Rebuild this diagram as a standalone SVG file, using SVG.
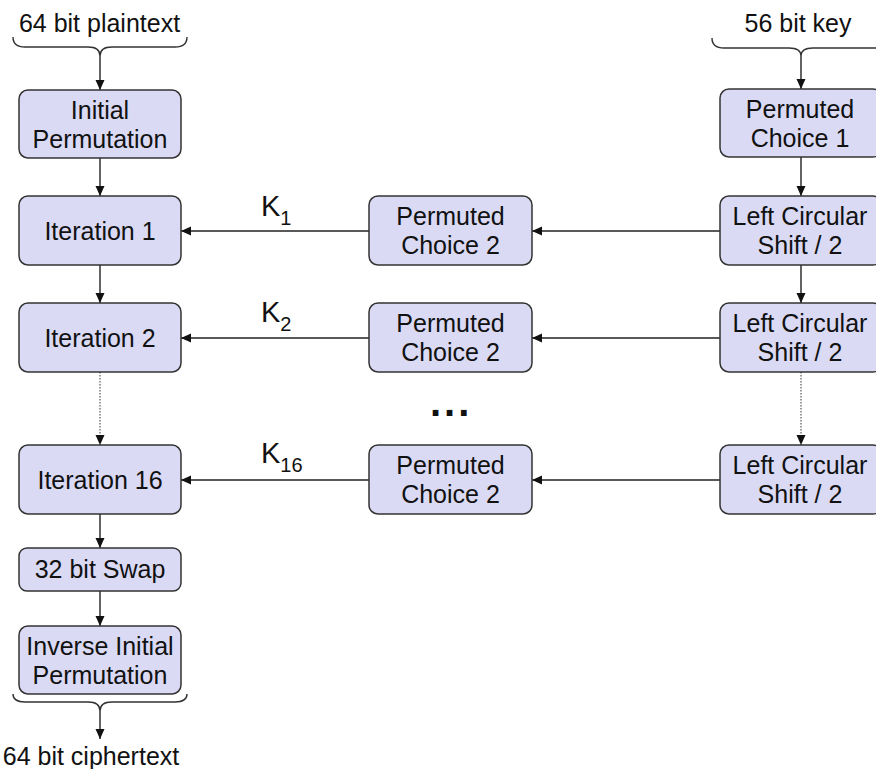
<svg xmlns="http://www.w3.org/2000/svg" width="876" height="769" viewBox="0 0 876 769">
<style>
.box{fill:#dadaf5;stroke:#333;stroke-width:1.5}
.t{font-family:"Liberation Sans",Arial,sans-serif;font-size:25px;fill:#111;text-anchor:middle}
.lbl{font-family:"Liberation Sans",Arial,sans-serif;fill:#111}
.c{stroke:#222;stroke-width:1.4;fill:none}
.d{stroke:#555;stroke-width:1.2;fill:none;stroke-dasharray:1.5 1.5}
.br{stroke:#333;stroke-width:1.4;fill:none}
</style>
<defs>
<marker id="ah" markerUnits="userSpaceOnUse" markerWidth="11" markerHeight="10" refX="10" refY="5" orient="auto">
<path d="M0,0.5 L10,5 L0,9.5 z" fill="#111"/>
</marker>
</defs>
<rect width="876" height="769" fill="#fff"/>

<g id="labels">
<text class="t" x="99.5" y="32">64 bit plaintext</text>
<text class="t" x="798" y="32">56 bit key</text>
<text class="t" x="91" y="765">64 bit ciphertext</text>
<path class="br" d="M13,37 Q13,47 25,47 L88,47 Q100,47 100,56 Q100,47 112,47 L175,47 Q187,47 187,37"/>
<path class="br" d="M712,38 Q712,48 724,48 L789,48 Q801,48 801,56 Q801,48 813,48 L878,48 Q890,48 890,38"/>
<path class="br" d="M13,694 Q13,702 25,702 L88,702 Q100,702 100,711 Q100,702 112,702 L175,702 Q187,702 187,694"/>
<text class="lbl" x="261" y="216" font-size="29">K<tspan font-size="20" dy="9">1</tspan></text>
<text class="lbl" x="261" y="322" font-size="29">K<tspan font-size="20" dy="9">2</tspan></text>
<text class="lbl" x="261" y="463" font-size="29">K<tspan font-size="20" dy="9">16</tspan></text>
<text class="lbl" x="430" y="416" font-size="40" font-weight="bold" letter-spacing="3">...</text>
</g>

<g id="connectors">
<line class="c" x1="100" y1="56" x2="100" y2="90" marker-end="url(#ah)"/>
<line class="c" x1="100" y1="158" x2="100" y2="196" marker-end="url(#ah)"/>
<line class="c" x1="100" y1="265" x2="100" y2="303" marker-end="url(#ah)"/>
<line class="d" x1="100" y1="372" x2="100" y2="445" marker-end="url(#ah)"/>
<line class="c" x1="100" y1="514" x2="100" y2="548" marker-end="url(#ah)"/>
<line class="c" x1="100" y1="591" x2="100" y2="626" marker-end="url(#ah)"/>
<line class="c" x1="100" y1="711" x2="100" y2="739" marker-end="url(#ah)"/>
<line class="c" x1="801" y1="56" x2="801" y2="89" marker-end="url(#ah)"/>
<line class="c" x1="801" y1="157" x2="801" y2="196" marker-end="url(#ah)"/>
<line class="c" x1="801" y1="265" x2="801" y2="303" marker-end="url(#ah)"/>
<line class="d" x1="801" y1="372" x2="801" y2="445" marker-end="url(#ah)"/>
<line class="c" x1="720" y1="231" x2="532" y2="231" marker-end="url(#ah)"/>
<line class="c" x1="369" y1="231" x2="181" y2="231" marker-end="url(#ah)"/>
<line class="c" x1="720" y1="338" x2="532" y2="338" marker-end="url(#ah)"/>
<line class="c" x1="369" y1="338" x2="181" y2="338" marker-end="url(#ah)"/>
<line class="c" x1="720" y1="480" x2="532" y2="480" marker-end="url(#ah)"/>
<line class="c" x1="369" y1="480" x2="181" y2="480" marker-end="url(#ah)"/>
</g>

<g id="ip"><rect class="box" x="19" y="90" width="162" height="68" rx="9"/><text class="t" x="100" y="119">Initial</text><text class="t" x="100" y="148">Permutation</text></g>
<g id="it1"><rect class="box" x="19" y="196" width="162" height="69" rx="9"/><text class="t" x="100" y="240">Iteration 1</text></g>
<g id="it2"><rect class="box" x="19" y="303" width="162" height="69" rx="9"/><text class="t" x="100" y="347">Iteration 2</text></g>
<g id="it16"><rect class="box" x="19" y="445" width="162" height="69" rx="9"/><text class="t" x="100" y="489">Iteration 16</text></g>
<g id="swap"><rect class="box" x="19" y="548" width="162" height="43" rx="8"/><text class="t" x="100" y="578">32 bit Swap</text></g>
<g id="iip"><rect class="box" x="19" y="626" width="162" height="68" rx="9"/><text class="t" x="100" y="655">Inverse Initial</text><text class="t" x="100" y="684">Permutation</text></g>

<g id="pc2a"><rect class="box" x="369" y="196" width="163" height="69" rx="9"/><text class="t" x="450.5" y="225">Permuted</text><text class="t" x="450.5" y="254">Choice 2</text></g>
<g id="pc2b"><rect class="box" x="369" y="303" width="163" height="69" rx="9"/><text class="t" x="450.5" y="332">Permuted</text><text class="t" x="450.5" y="361">Choice 2</text></g>
<g id="pc2c"><rect class="box" x="369" y="445" width="163" height="69" rx="9"/><text class="t" x="450.5" y="474">Permuted</text><text class="t" x="450.5" y="503">Choice 2</text></g>

<g id="pc1"><rect class="box" x="720" y="89" width="162" height="68" rx="9"/><text class="t" x="800" y="118">Permuted</text><text class="t" x="800" y="147">Choice 1</text></g>
<g id="lcs1"><rect class="box" x="720" y="196" width="162" height="69" rx="9"/><text class="t" x="800" y="225">Left Circular</text><text class="t" x="800" y="254">Shift / 2</text></g>
<g id="lcs2"><rect class="box" x="720" y="303" width="162" height="69" rx="9"/><text class="t" x="800" y="332">Left Circular</text><text class="t" x="800" y="361">Shift / 2</text></g>
<g id="lcs3"><rect class="box" x="720" y="445" width="162" height="69" rx="9"/><text class="t" x="800" y="474">Left Circular</text><text class="t" x="800" y="503">Shift / 2</text></g>
</svg>
